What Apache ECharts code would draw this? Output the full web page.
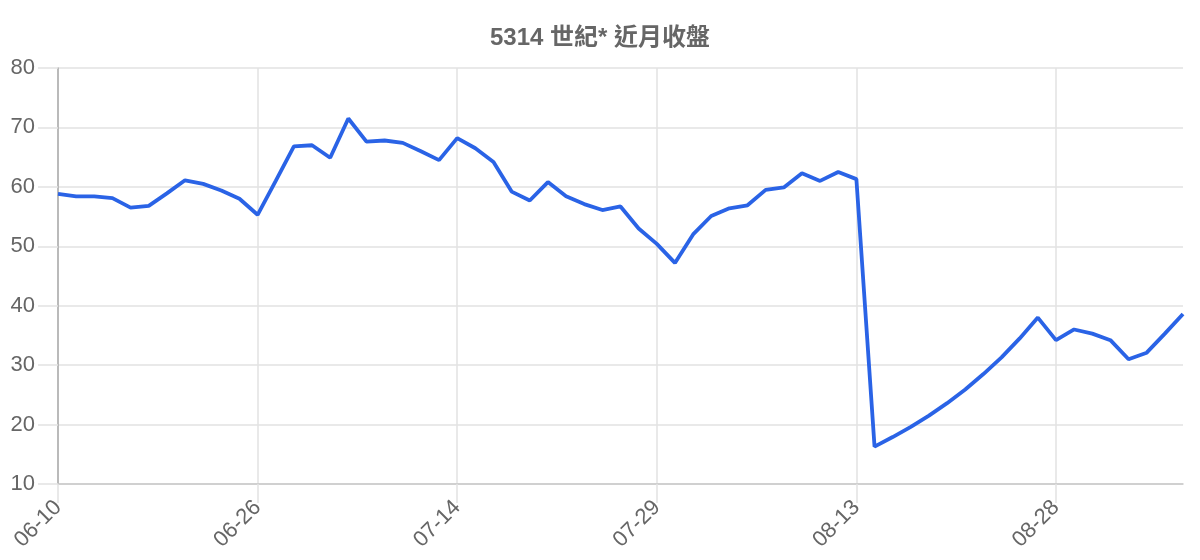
<!DOCTYPE html>
<html>
<head>
<meta charset="utf-8">
<script src="https://cdn.jsdelivr.net/npm/echarts@6/dist/echarts.min.js"></script>
<style>
html,body{margin:0;padding:0;background:#fff;}
#c{width:1200px;height:560px;}
</style>
</head>
<body>
<div id="c"></div>
<script>
const titleText = '5314 世紀* 近月收盤';
const dates = [
  '06-10','06-11','06-12','06-13','06-16','06-17','06-18','06-19','06-20','06-23','06-24',
  '06-26','06-27','06-30','07-01','07-02','07-03','07-04','07-07','07-08','07-09','07-10',
  '07-14','07-15','07-16','07-17','07-18','07-21','07-22','07-23','07-24','07-25','07-28',
  '07-29','07-30','07-31','08-01','08-04','08-05','08-06','08-07','08-08','08-11','08-12',
  '08-13','08-14','08-15','08-18','08-19','08-20','08-21','08-22','08-25','08-26','08-27',
  '08-28','08-29','09-01','09-02','09-03','09-04','09-05','09-08'
];
const closes = [
  58.8,58.4,58.4,58.1,56.5,56.8,58.9,61.1,60.5,59.4,58.0,
  55.3,61.0,66.8,67.0,64.9,71.5,67.6,67.8,67.4,66.0,64.5,
  68.2,66.5,64.2,59.2,57.7,60.8,58.4,57.1,56.1,56.7,53.0,
  50.4,47.2,52.0,55.1,56.4,56.9,59.5,59.9,62.3,61.0,62.5,
  61.3,16.3,17.9,19.6,21.5,23.6,25.9,28.5,31.3,34.5,38.0,
  34.2,36.0,35.3,34.2,31.0,32.1,35.3,38.6
];
const yMin = 10, yMax = 80, yStep = 10;

const chart = echarts.init(document.getElementById('c'));
const fontFam = "'Liberation Sans','Noto Sans CJK TC',Arial,sans-serif";
chart.setOption({
  animation: false,
  backgroundColor: '#fff',
  title: {
    text: titleText,
    left: 'center',
    top: 21,
    textStyle: { fontSize: 24, fontWeight: 'bold', color: '#666', fontFamily: fontFam }
  },
  grid: { left: 58, right: 17, top: 68, bottom: 76, containLabel: false },
  xAxis: {
    type: 'category',
    data: dates,
    boundaryGap: false,
    axisLine: { show: true, lineStyle: { color: '#c8c8c8', width: 1.5 } },
    axisTick: { show: true, interval: 10, length: 19, lineStyle: { color: '#e2e2e2', width: 1.5 } },
    axisLabel: { interval: 10, rotate: 45, margin: 20, fontSize: 22, color: '#666', fontFamily: fontFam },
    splitLine: { show: true, interval: 10, lineStyle: { color: '#e2e2e2', width: 1.5 } }
  },
  yAxis: {
    type: 'value',
    min: yMin, max: yMax, interval: yStep,
    axisLine: { show: true, lineStyle: { color: '#aaa', width: 1.5 } },
    axisTick: { show: true, length: 20, lineStyle: { color: '#e2e2e2', width: 1.5 } },
    axisLabel: { margin: 23, fontSize: 22, color: '#666', fontFamily: fontFam },
    splitLine: { show: true, lineStyle: { color: '#e2e2e2', width: 1.5 } }
  },
  series: [{
    type: 'line',
    data: closes,
    showSymbol: false,
    symbol: 'none',
    lineStyle: { color: '#2a63e6', width: 3.8 },
    itemStyle: { color: '#2a63e6' }
  }]
});
</script>
</body>
</html>
